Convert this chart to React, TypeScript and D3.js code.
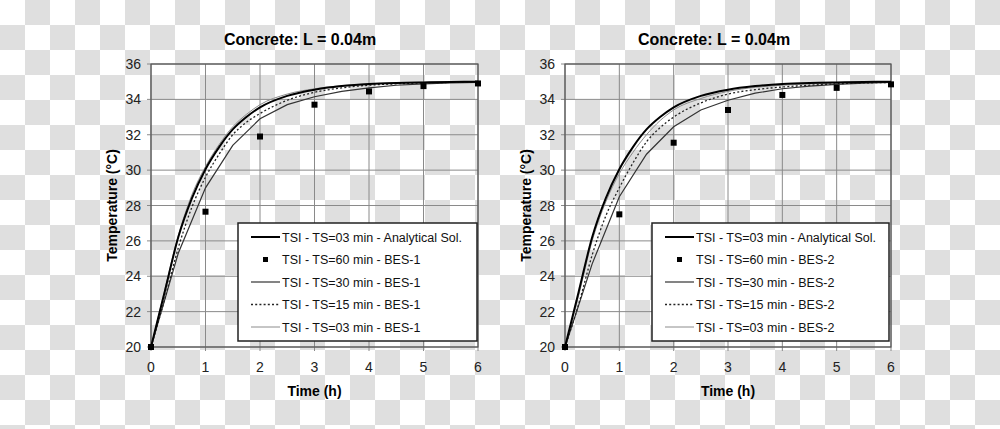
import React from "react";
import * as d3 from "d3";

const hourTicks = [0, 1, 2, 3, 4, 5, 6];
const tempTicks = [20, 22, 24, 26, 28, 30, 32, 34, 36];
const tFine = [0, 0.25, 0.5, 0.75, 1, 1.25, 1.5, 1.75, 2, 2.5, 3, 3.5, 4, 4.5, 5, 5.5, 6];
const tHalf = [0, 0.5, 1, 1.5, 2, 2.5, 3, 3.5, 4, 4.5, 5, 5.5, 6];
const tHour = [0, 1, 2, 3, 4, 5, 6];

const analytical = [20, 23.1, 26.2, 28.4, 30.05, 31.3, 32.3, 33.0, 33.55, 34.2, 34.55, 34.75, 34.87, 34.93, 34.96, 34.98, 35.0];

const bes1_03 = [20, 23.2, 26.3, 28.6, 30.2, 31.45, 32.45, 33.15, 33.7, 34.3, 34.6, 34.78, 34.88, 34.94, 34.97, 34.98, 35.0];
const bes1_15 = [20, 22.7, 25.6, 27.9, 29.6, 30.9, 32.0, 32.7, 33.2, 33.95, 34.4, 34.65, 34.8, 34.88, 34.93, 34.96, 34.98];
const bes1_30 = [20, 25.3, 29.0, 31.4, 32.9, 33.7, 34.15, 34.45, 34.65, 34.8, 34.88, 34.93, 34.96];
const bes1_60 = [20, 27.65, 31.9, 33.7, 34.45, 34.75, 34.9];

const bes2_03 = [20, 22.9, 26.0, 28.2, 29.8, 31.0, 32.0, 32.8, 33.4, 34.05, 34.45, 34.68, 34.8, 34.88, 34.93, 34.96, 34.98];
const bes2_15 = [20, 22.4, 25.2, 27.4, 29.0, 30.4, 31.6, 32.4, 33.0, 33.8, 34.3, 34.55, 34.7, 34.8, 34.88, 34.93, 34.96];
const bes2_30 = [20, 24.7, 28.5, 30.9, 32.45, 33.4, 33.95, 34.35, 34.6, 34.75, 34.85, 34.92, 34.96];
const bes2_60 = [20, 27.5, 31.55, 33.4, 34.25, 34.65, 34.85];

const titleText = "Concrete: L = 0.04m";
const xLabel = "Time (h)";
const yLabel = "Temperature (°C)";

const FONT = "'Liberation Sans', Arial, sans-serif";

type PanelProps = {
  x0: number;
  x1: number;
  titleX: number;
  yLabelX: number;
  legendX: number;
  legendRight: number;
  bes: string;
  s03: number[];
  s15: number[];
  s30: number[];
  s60: number[];
};

function Panel(p: PanelProps) {
  const x = d3.scaleLinear().domain([0, 6]).range([p.x0, p.x1]);
  const y = d3.scaleLinear().domain([20, 36]).range([347, 64]);
  const smooth = d3
    .line<[number, number]>()
    .x((d) => x(d[0]))
    .y((d) => y(d[1]))
    .curve(d3.curveMonotoneX);
  const straight = d3
    .line<[number, number]>()
    .x((d) => x(d[0]))
    .y((d) => y(d[1]));
  const zip = (ts: number[], vs: number[]) => ts.map((t, i) => [t, vs[i]] as [number, number]);

  const legendTop = 223;
  const legendBottom = 341;
  const rows = [237, 259.5, 282, 304.5, 327];
  const lx0 = p.legendX + 13;
  const lx1 = lx0 + 29;
  const tx = lx1 + 2;
  const labels = [
    "TSI - TS=03 min - Analytical Sol.",
    `TSI - TS=60 min - ${p.bes}`,
    `TSI - TS=30 min - ${p.bes}`,
    `TSI - TS=15 min - ${p.bes}`,
    `TSI - TS=03 min - ${p.bes}`,
  ];

  return (
    <g>
      <text x={p.titleX} y={45} textAnchor="middle" fontFamily={FONT} fontWeight="bold" fontSize={16} fill="#000">
        {titleText}
      </text>
      {tempTicks.map((t) => (
        <line key={"gy" + t} x1={p.x0 - 4} x2={p.x1} y1={y(t)} y2={y(t)} stroke="#8a8a8a" strokeWidth={1} />
      ))}
      {hourTicks.map((t) => (
        <line key={"gx" + t} x1={x(t)} x2={x(t)} y1={64} y2={351} stroke="#8a8a8a" strokeWidth={1} />
      ))}
      <rect x={p.x0} y={64} width={p.x1 - p.x0} height={347 - 64} fill="none" stroke="#555" strokeWidth={1.2} />
      {tempTicks.map((t) => (
        <text key={"ty" + t} x={p.x0 - 10} y={y(t) + 5} textAnchor="end" fontFamily={FONT} fontSize={14} fill="#222">
          {t}
        </text>
      ))}
      {hourTicks.map((t) => (
        <text key={"tx" + t} x={x(t)} y={372} textAnchor="middle" fontFamily={FONT} fontSize={14} fill="#222">
          {t}
        </text>
      ))}
      <text x={(p.x0 + p.x1) / 2} y={396} textAnchor="middle" fontFamily={FONT} fontWeight="bold" fontSize={14} fill="#000">
        {xLabel}
      </text>
      <text
        transform={`translate(${p.yLabelX},${205.5}) rotate(-90)`}
        textAnchor="middle"
        fontFamily={FONT}
        fontWeight="bold"
        fontSize={14}
        fill="#000"
      >
        {yLabel}
      </text>

      <path d={smooth(zip(tFine, p.s03)) || ""} fill="none" stroke="#8c8c8c" strokeWidth={1} />
      <path d={straight(zip(tHalf, p.s30)) || ""} fill="none" stroke="#333" strokeWidth={1.2} />
      <path d={smooth(zip(tFine, p.s15)) || ""} fill="none" stroke="#222" strokeWidth={1.3} strokeDasharray="2,2.2" />
      <path d={smooth(zip(tFine, analytical)) || ""} fill="none" stroke="#000" strokeWidth={2} />
      {zip(tHour, p.s60).map((d, i) => (
        <rect key={"sq" + i} x={x(d[0]) - 3} y={y(d[1]) - 3} width={6} height={6} fill="#000" />
      ))}

      <rect
        x={p.legendX}
        y={legendTop}
        width={p.legendRight - p.legendX}
        height={legendBottom - legendTop}
        fill="#fff"
        stroke="#222"
        strokeWidth={1.5}
      />
      <line x1={lx0} x2={lx1} y1={rows[0]} y2={rows[0]} stroke="#000" strokeWidth={2} />
      <rect x={(lx0 + lx1) / 2 - 2.5} y={rows[1] - 2.5} width={5} height={5} fill="#000" />
      <line x1={lx0} x2={lx1} y1={rows[2]} y2={rows[2]} stroke="#333" strokeWidth={1.2} />
      <line x1={lx0} x2={lx1} y1={rows[3]} y2={rows[3]} stroke="#222" strokeWidth={1.3} strokeDasharray="2,2.2" />
      <line x1={lx0} x2={lx1} y1={rows[4]} y2={rows[4]} stroke="#8c8c8c" strokeWidth={1} />
      {labels.map((l, i) => (
        <text key={"lg" + i} x={tx} y={rows[i] + 4.5} fontFamily={FONT} fontSize={12.5} fill="#111">
          {l}
        </text>
      ))}
    </g>
  );
}

export default function App() {
  return (
    <svg
      width={1000}
      height={429}
      style={{ position: "absolute", left: 0, top: 0, display: "block" }}
    >
      <defs>
        <pattern id="checker" x={0} y={0} width={50} height={50} patternUnits="userSpaceOnUse">
          <rect x={0} y={0} width={50} height={50} fill="#ffffff" />
          <rect x={25} y={0} width={25} height={25} fill="#dfdfdf" />
          <rect x={0} y={25} width={25} height={25} fill="#dfdfdf" />
        </pattern>
      </defs>
      <rect x={0} y={0} width={1000} height={429} fill="url(#checker)" />
      <Panel
        x0={151}
        x1={478}
        titleX={300}
        yLabelX={117}
        legendX={238}
        legendRight={477}
        bes="BES-1"
        s03={bes1_03}
        s15={bes1_15}
        s30={bes1_30}
        s60={bes1_60}
      />
      <Panel
        x0={565}
        x1={891}
        titleX={714}
        yLabelX={531}
        legendX={652}
        legendRight={889}
        bes="BES-2"
        s03={bes2_03}
        s15={bes2_15}
        s30={bes2_30}
        s60={bes2_60}
      />
    </svg>
  );
}
